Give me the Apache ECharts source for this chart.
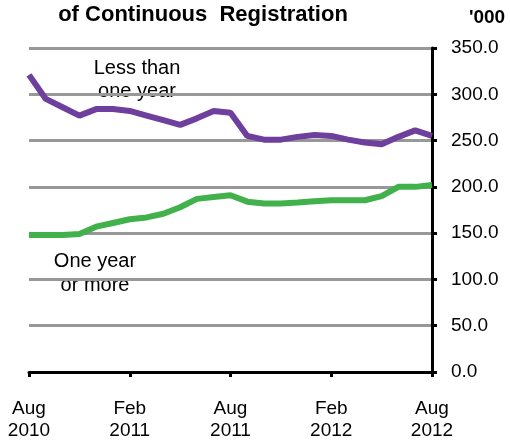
<!DOCTYPE html>
<html><head><meta charset="utf-8">
<script src="https://cdn.jsdelivr.net/npm/echarts@6/dist/echarts.min.js"></script>
<style>html,body{margin:0;padding:0;background:#fff}#c{width:510px;height:443px}</style>
</head><body><div id="c"></div>
<script>
const months = ['Aug 2010','Sep 2010','Oct 2010','Nov 2010','Dec 2010','Jan 2011','Feb 2011','Mar 2011','Apr 2011','May 2011','Jun 2011','Jul 2011','Aug 2011','Sep 2011','Oct 2011','Nov 2011','Dec 2011','Jan 2012','Feb 2012','Mar 2012','Apr 2012','May 2012','Jun 2012','Jul 2012','Aug 2012'];
const lessThanOneYear = [321,295,286,277,284,284,282,277,272,267,274,282,280,255,251,251,254,256,255,251,248,246,254,261,255];
const oneYearOrMore = [148,148,148,149,157,161,165,167,171,178,187,189,191,184,182,182,183,184.5,185.5,185.5,185.5,190,200,200,202];
const yTicks = [0,50,100,150,200,250,300,350];
const FONT = 'Liberation Sans, Arial, sans-serif';
function label(txt,x,y,size,bold){
  return {type:'text',x:x,y:y,style:{text:txt,fontFamily:FONT,fontSize:size,fontWeight:bold?'bold':'normal',fill:'#000',align:'center',verticalAlign:'middle'}};
}
const chart = echarts.init(document.getElementById('c'));
chart.setOption({
  animation:false,
  grid:{left:29,right:78,top:48,bottom:71},
  xAxis:{type:'category',data:months,boundaryGap:false,
    axisLine:{lineStyle:{color:'#000',width:3}},
    axisTick:{interval:5,length:5,lineStyle:{color:'#000',width:3}},
    axisLabel:{interval:5,margin:26,fontFamily:FONT,fontSize:19,color:'#000',lineHeight:22,formatter:v=>v.replace(' ','\n')},
    splitLine:{show:false}},
  yAxis:{type:'value',position:'right',min:yTicks[0],max:yTicks[yTicks.length-1],interval:50,
    axisLine:{show:true,lineStyle:{color:'#000',width:3}},
    axisTick:{show:true,length:5,lineStyle:{color:'#000',width:3}},
    axisLabel:{margin:19,fontFamily:FONT,fontSize:19,color:'#000',formatter:v=>v.toFixed(1)},
    splitLine:{lineStyle:{color:'#989898',width:3}}},
  graphic:[
    label('of Continuous  Registration',203,15,22,true),
    label("'000",487,18,19,true),
    label('Less than',137,68,20,false),
    label('one year',137,91,20,false),
    label('One year',95,261,20,false),
    label('or more',95,285,20,false)
  ],
  series:[
    {type:'line',name:'Less than one year',data:lessThanOneYear,showSymbol:false,lineStyle:{color:'#6F3F9E',width:6},z:3},
    {type:'line',name:'One year or more',data:oneYearOrMore,showSymbol:false,lineStyle:{color:'#41B14B',width:6},z:3}
  ]
});
</script></body></html>
